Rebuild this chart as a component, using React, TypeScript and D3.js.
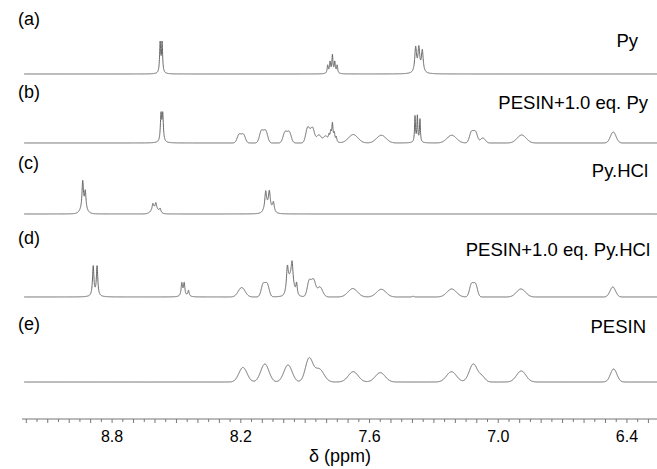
import React from "react";
import * as d3 from "d3";

const W = 657;
const H = 469;

// peak lists: [ppm, intensity, width]
// width < 0.006 -> lorentzian (hwhm, ppm), otherwise gaussian (sigma, ppm)
const pyPeaks = [
  [8.576, 30, 0.003], [8.567, 30, 0.003],
  [7.795, 8, 0.003], [7.784, 11, 0.003], [7.773, 18, 0.003], [7.762, 11, 0.003], [7.751, 8, 0.003],
  [7.385, 25, 0.005], [7.370, 24, 0.005], [7.354, 22, 0.005],
];

const pesinPyPeaks = [
  [8.572, 27, 0.0035], [8.564, 27, 0.0035],
  [8.208, 8.4, 0.009], [8.188, 8.4, 0.009],
  [8.104, 12, 0.009], [8.084, 12, 0.009],
  [7.994, 10.8, 0.009], [7.974, 10.8, 0.009],
  [7.888, 15.5, 0.009], [7.866, 15, 0.009],
  [7.836, 8, 0.011], [7.805, 6.5, 0.01], [7.775, 4, 0.01],
  [7.789, 5, 0.003], [7.781, 7, 0.003], [7.773, 15, 0.003], [7.764, 7, 0.003], [7.755, 5, 0.003],
  [7.676, 8.4, 0.022], [7.545, 7.7, 0.022],
  [7.388, 26, 0.0025], [7.377, 26, 0.0025], [7.365, 23, 0.0025],
  [7.217, 7.7, 0.022],
  [7.125, 10.8, 0.009], [7.106, 10.8, 0.009], [7.072, 5, 0.011],
  [6.891, 8, 0.021], [6.464, 11, 0.013],
];

const pyHclPeaks = [
  [8.937, 28, 0.004], [8.925, 18, 0.004], [8.933, 4, 0.015],
  [8.610, 6, 0.004], [8.596, 6, 0.004], [8.576, 4, 0.004], [8.600, 5, 0.016],
  [8.084, 18, 0.005], [8.067, 17, 0.005], [8.048, 9.5, 0.005], [8.072, 5, 0.016],
];

const pesinPyHclPeaks = [
  [8.888, 30, 0.004], [8.870, 30, 0.004],
  [8.475, 13, 0.004], [8.464, 13, 0.004], [8.444, 6, 0.004],
  [8.196, 9.4, 0.016],
  [8.096, 12.5, 0.009], [8.077, 12.5, 0.009],
  [7.983, 22, 0.005], [7.961, 20, 0.005], [7.968, 17, 0.013], [7.940, 12, 0.004],
  [7.881, 16, 0.009], [7.861, 16, 0.009], [7.832, 10, 0.013],
  [7.678, 8.4, 0.022], [7.545, 7.7, 0.022], [7.397, 1, 0.003],
  [7.217, 8, 0.022],
  [7.125, 12.5, 0.009], [7.106, 12.5, 0.009],
  [6.894, 8, 0.021], [6.466, 10, 0.013],
];

const pesinPeaks = [
  [8.190, 14.5, 0.019], [8.088, 18, 0.019], [7.980, 17, 0.019],
  [7.882, 23, 0.017], [7.835, 13, 0.022],
  [7.676, 10.3, 0.023], [7.550, 9.3, 0.023],
  [7.218, 10.3, 0.023], [7.116, 18, 0.019], [7.075, 5, 0.014],
  [6.893, 11, 0.022], [6.462, 13, 0.015],
];

const tags = ["(a)", "(b)", "(c)", "(d)", "(e)"];
const names = ["Py", "PESIN+1.0 eq. Py", "Py.HCl", "PESIN+1.0 eq. Py.HCl", "PESIN"];
const spectra = [pyPeaks, pesinPyPeaks, pyHclPeaks, pesinPyHclPeaks, pesinPeaks];

const tickLabels = [8.8, 8.2, 7.6, 7.0, 6.4];

// layout
const baselines = [74, 143, 214, 297, 382];
const tagY = [25, 98, 169, 244, 330];
const nameY = [47, 109, 177, 256, 333];
const nameX = [638, 648, 648, 650, 646];
const axisY = 419;

const FONT = "'Liberation Sans', Arial, Helvetica, sans-serif";

function intensity(peaks, p) {
  let s = 0;
  for (const [c, h, w] of peaks) {
    const d = p - c;
    if (w < 0.006) s += h / (1 + (d / w) * (d / w));
    else s += h * Math.exp(-0.5 * (d / w) * (d / w));
  }
  return s;
}

const App = () => {
  const x = d3.scaleLinear().domain([9.22, 6.26]).range([22, 657]);
  const grid = d3.range(9.21, 6.26, -0.0005);

  const minor = d3.range(0, 59).map((i) => +(9.2 - i * 0.05).toFixed(2));

  return (
    <svg width={W} height={H} style={{ display: "block", position: "absolute", left: 0, top: 0 }}>
      <rect width={W} height={H} fill="#fff" />
      {spectra.map((peaks, i) => {
        const y = d3.scaleLinear().domain([0, 1]).range([baselines[i], baselines[i] - 1]);
        const line = d3
          .line<number>()
          .x((p) => x(p))
          .y((p) => y(intensity(peaks, p)));
        return (
          <g key={i}>
            <path d={line(grid) || ""} fill="none" stroke="#666" strokeWidth={1} />
            <text x={18} y={tagY[i]} fontFamily={FONT} fontSize={18} fill="#000">
              {tags[i]}
            </text>
            <text x={nameX[i]} y={nameY[i]} fontFamily={FONT} fontSize={18.5} fill="#000" textAnchor="end">
              {names[i]}
            </text>
          </g>
        );
      })}

      {/* x axis */}
      <line x1={22} x2={657} y1={axisY} y2={axisY} stroke="#777" strokeWidth={1} />
      {minor.map((v, i) => (
        <line
          key={i}
          x1={x(v)}
          x2={x(v)}
          y1={axisY}
          y2={axisY + (i % 2 === 0 ? 4 : 3)}
          stroke="#777"
          strokeWidth={1}
        />
      ))}
      {tickLabels.map((v) => (
        <text key={v} x={x(v)} y={442} fontFamily={FONT} fontSize={16} textAnchor="middle" fill="#000">
          {v.toFixed(1)}
        </text>
      ))}
      <text x={340} y={462} fontFamily={FONT} fontSize={18} textAnchor="middle" fill="#000">
        δ (ppm)
      </text>
    </svg>
  );
};

export default App;
